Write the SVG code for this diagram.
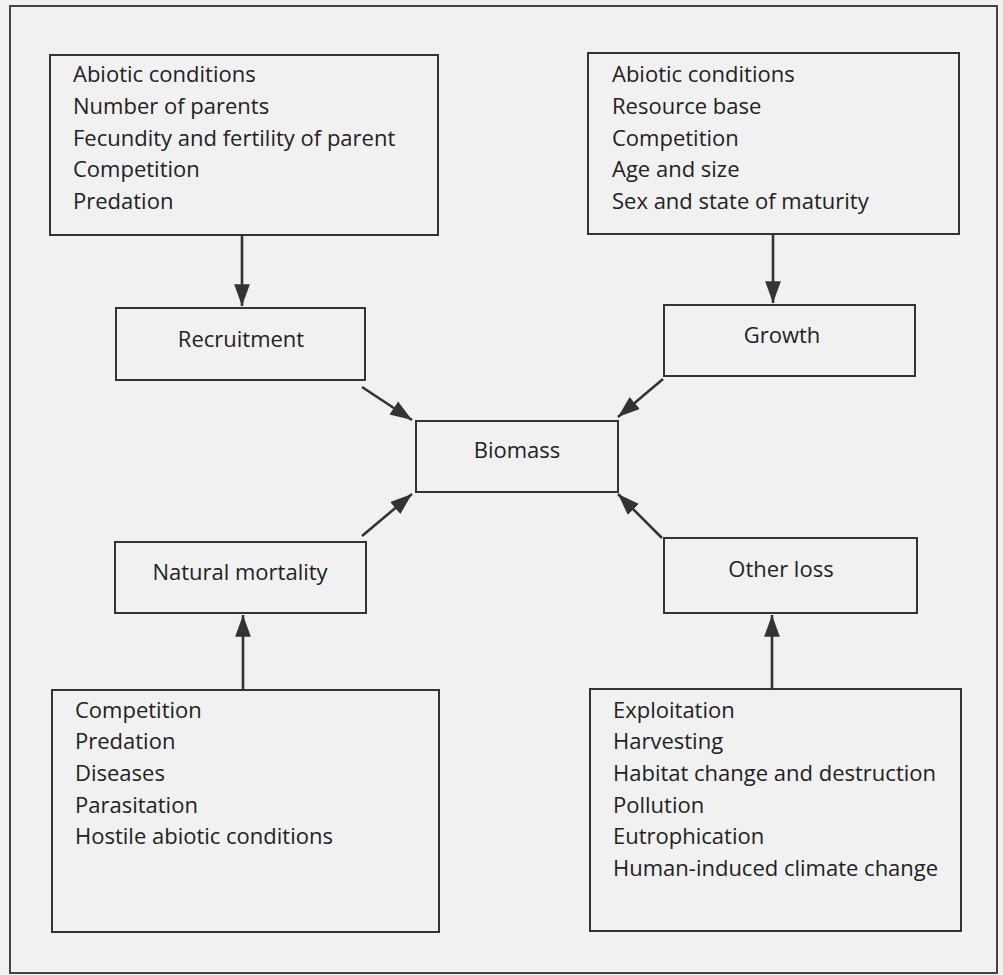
<svg xmlns="http://www.w3.org/2000/svg" width="1003" height="975" viewBox="0 0 1003 975">
<defs>
<marker id="ah" viewBox="0 0 10 10" refX="10" refY="5" markerWidth="8.4" markerHeight="8.4" markerUnits="strokeWidth" orient="auto">
<path d="M0,1.4 L10,5 L0,8.6 Z" fill="#333"/>
</marker>
<style>
.box{fill:none;stroke:#333;stroke-width:2}
.t{font-family:"Open Sans","Noto Sans",sans-serif;font-size:22px;fill:#222}
.c{text-anchor:middle}
.con line{stroke:#333;stroke-width:2.6;marker-end:url(#ah)}
</style>
</defs>
<rect x="0" y="0" width="1003" height="975" fill="#f1f1f1"/>
<rect x="10" y="6" width="987" height="967" fill="none" stroke="#444" stroke-width="2"/>
<g id="n-recruit-factors">
<rect class="box" x="50" y="55" width="388" height="180"/>
<text class="t" x="73" y="82">Abiotic conditions</text>
<text class="t" x="73" y="114">Number of parents</text>
<text class="t" x="73" y="146">Fecundity and fertility of parent</text>
<text class="t" x="73" y="177">Competition</text>
<text class="t" x="73" y="209">Predation</text>
</g>
<g id="n-growth-factors">
<rect class="box" x="588" y="53" width="371" height="181"/>
<text class="t" x="612" y="82">Abiotic conditions</text>
<text class="t" x="612" y="114">Resource base</text>
<text class="t" x="612" y="146">Competition</text>
<text class="t" x="612" y="177">Age and size</text>
<text class="t" x="612" y="209">Sex and state of maturity</text>
</g>
<g id="n-recruitment">
<rect class="box" x="116" y="308" width="249" height="72"/>
<text class="t c" x="241" y="347">Recruitment</text>
</g>
<g id="n-growth">
<rect class="box" x="664" y="305" width="251" height="71"/>
<text class="t c" x="782" y="343">Growth</text>
</g>
<g id="n-biomass">
<rect class="box" x="416" y="421" width="202" height="71"/>
<text class="t c" x="517" y="458">Biomass</text>
</g>
<g id="n-natmort">
<rect class="box" x="115" y="542" width="251" height="71"/>
<text class="t c" x="240" y="580">Natural mortality</text>
</g>
<g id="n-otherloss">
<rect class="box" x="664" y="538" width="253" height="75"/>
<text class="t c" x="781" y="577">Other loss</text>
</g>
<g id="n-mort-factors">
<rect class="box" x="52" y="690" width="387" height="242"/>
<text class="t" x="75" y="718">Competition</text>
<text class="t" x="75" y="749">Predation</text>
<text class="t" x="75" y="781">Diseases</text>
<text class="t" x="75" y="813">Parasitation</text>
<text class="t" x="75" y="844">Hostile abiotic conditions</text>
</g>
<g id="n-loss-factors">
<rect class="box" x="590" y="689" width="371" height="242"/>
<text class="t" x="613" y="718">Exploitation</text>
<text class="t" x="613" y="749">Harvesting</text>
<text class="t" x="613" y="781">Habitat change and destruction</text>
<text class="t" x="613" y="813">Pollution</text>
<text class="t" x="613" y="844">Eutrophication</text>
<text class="t" x="613" y="876">Human-induced climate change</text>
</g>
<g id="connectors" class="con">
<line x1="242" y1="235" x2="242" y2="306"/>
<line x1="773" y1="234" x2="773" y2="303"/>
<line x1="362" y1="387" x2="412" y2="420"/>
<line x1="362" y1="536" x2="412" y2="494"/>
<line x1="663" y1="379" x2="618" y2="417"/>
<line x1="662" y1="538" x2="618" y2="494"/>
<line x1="243" y1="690" x2="243" y2="615"/>
<line x1="772" y1="689" x2="772" y2="615"/>
</g>
</svg>
